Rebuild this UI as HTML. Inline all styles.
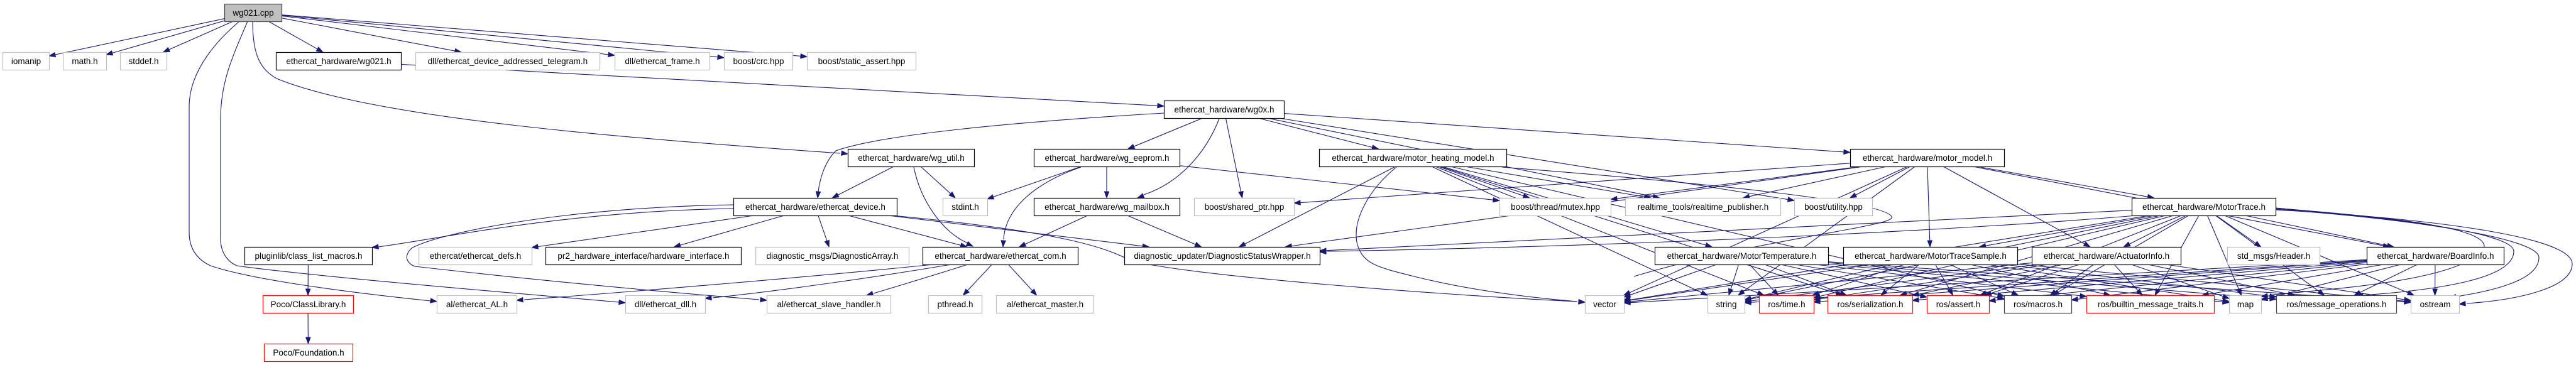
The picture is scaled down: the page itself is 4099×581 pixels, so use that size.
<!DOCTYPE html>
<html><head><meta charset="utf-8"><style>
html,body{margin:0;padding:0;background:#fff;}
svg{display:block;}
text{font-family:"Liberation Sans",sans-serif;font-size:13.5px;fill:#000;}
</style></head><body>
<svg id="s" width="4099" height="581" xmlns="http://www.w3.org/2000/svg">
<g id="edges" fill="none" stroke="#191970" stroke-width="1.1"></g>
<g id="arrows" fill="#191970" stroke="#191970"></g>
<g id="nodes"></g>
</svg>
<div id="labels" style="display:none">
<span data-k="cpp">wg021.cpp</span>
<span data-k="iomanip">iomanip</span>
<span data-k="math">math.h</span>
<span data-k="stddef">stddef.h</span>
<span data-k="wg021h">ethercat_hardware/wg021.h</span>
<span data-k="tele">dll/ethercat_device_addressed_telegram.h</span>
<span data-k="frame">dll/ethercat_frame.h</span>
<span data-k="crc">boost/crc.hpp</span>
<span data-k="sa">boost/static_assert.hpp</span>
<span data-k="wg0x">ethercat_hardware/wg0x.h</span>
<span data-k="util">ethercat_hardware/wg_util.h</span>
<span data-k="eeprom">ethercat_hardware/wg_eeprom.h</span>
<span data-k="mhm">ethercat_hardware/motor_heating_model.h</span>
<span data-k="mm">ethercat_hardware/motor_model.h</span>
<span data-k="dev">ethercat_hardware/ethercat_device.h</span>
<span data-k="stdint">stdint.h</span>
<span data-k="mbox">ethercat_hardware/wg_mailbox.h</span>
<span data-k="sp">boost/shared_ptr.hpp</span>
<span data-k="mutex">boost/thread/mutex.hpp</span>
<span data-k="rtp">realtime_tools/realtime_publisher.h</span>
<span data-k="util2">boost/utility.hpp</span>
<span data-k="mt">ethercat_hardware/MotorTrace.h</span>
<span data-k="plug">pluginlib/class_list_macros.h</span>
<span data-k="defs">ethercat/ethercat_defs.h</span>
<span data-k="pr2">pr2_hardware_interface/hardware_interface.h</span>
<span data-k="darr">diagnostic_msgs/DiagnosticArray.h</span>
<span data-k="com">ethercat_hardware/ethercat_com.h</span>
<span data-k="dsw">diagnostic_updater/DiagnosticStatusWrapper.h</span>
<span data-k="mtemp">ethercat_hardware/MotorTemperature.h</span>
<span data-k="mts">ethercat_hardware/MotorTraceSample.h</span>
<span data-k="ai">ethercat_hardware/ActuatorInfo.h</span>
<span data-k="hdr">std_msgs/Header.h</span>
<span data-k="bi">ethercat_hardware/BoardInfo.h</span>
<span data-k="cl">Poco/ClassLibrary.h</span>
<span data-k="al">al/ethercat_AL.h</span>
<span data-k="dll">dll/ethercat_dll.h</span>
<span data-k="sh">al/ethercat_slave_handler.h</span>
<span data-k="pth">pthread.h</span>
<span data-k="mst">al/ethercat_master.h</span>
<span data-k="vec">vector</span>
<span data-k="str">string</span>
<span data-k="time">ros/time.h</span>
<span data-k="ser">ros/serialization.h</span>
<span data-k="as">ros/assert.h</span>
<span data-k="mac">ros/macros.h</span>
<span data-k="bmt">ros/builtin_message_traits.h</span>
<span data-k="map">map</span>
<span data-k="mo">ros/message_operations.h</span>
<span data-k="os">ostream</span>
<span data-k="fd">Poco/Foundation.h</span>
</div>
<script>
var NS="http://www.w3.org/2000/svg";
var N={
cpp:[357,6,91,'c'],
iomanip:[4,83,74,'g'],math:[100,83,69,'g'],stddef:[191,83,74,'g'],wg021h:[439,83,199,'b'],
tele:[661,83,293,'g'],frame:[978,83,151,'g'],crc:[1152,83,109,'g'],sa:[1284,83,173,'g'],
wg0x:[1852,160,191,'b'],
util:[1349,237,201,'b'],eeprom:[1645,237,232,'b'],mhm:[2099,237,298,'b'],mm:[2944,237,245,'b'],
dev:[1167,315,260,'b'],stdint:[1500,315,71,'g'],mbox:[1645,315,232,'b'],sp:[1900,315,159,'g'],
mutex:[2386,315,177,'g'],rtp:[2586,315,247,'g'],util2:[2855,315,124,'g'],mt:[3392,315,229,'b'],
plug:[389,393,203,'b'],defs:[666,393,180,'g'],pr2:[868,393,311,'b'],darr:[1202,393,244,'g'],
com:[1468,393,247,'b'],dsw:[1789,393,311,'b'],mtemp:[2633,393,276,'b'],mts:[2933,393,277,'b'],
ai:[3233,393,237,'b'],hdr:[3544,393,147,'g'],bi:[3766,393,218,'b'],
cl:[418,470,144,'r'],al:[695,470,127,'g'],dll:[995,470,127,'g'],sh:[1220,470,197,'g'],
pth:[1477,470,85,'g'],mst:[1585,470,155,'g'],vec:[2522,470,62,'g'],str:[2717,470,59,'g'],
time:[2799,470,87,'r'],ser:[2908,470,135,'r'],as:[3066,470,99,'r'],mac:[3189,470,107,'d'],
bmt:[3320,470,203,'r'],map:[3547,470,51,'g'],mo:[3622,470,191,'d'],os:[3836,470,77,'g'],
fd:[420,547,141,'r']
};
var H=28;
var E=document.getElementById('edges'),A=document.getElementById('arrows'),G=document.getElementById('nodes');
function el(t,a,p){var e=document.createElementNS(NS,t);for(var k in a)e.setAttribute(k,a[k]);p.appendChild(e);return e;}
function arrow(px,py,ex,ey){var dx=ex-px,dy=ey-py,l=Math.sqrt(dx*dx+dy*dy)||1;dx/=l;dy/=l;
var bx=ex-dx*10,by=ey-dy*10;
el('polygon',{points:ex+','+ey+' '+(bx-dy*3.6)+','+(by+dx*3.6)+' '+(bx+dy*3.6)+','+(by-dx*3.6)},A);}
function ctr(k){var n=N[k];return [n[0]+n[2]/2,n[1]+H/2];}
function clip(k,px,py){var n=N[k],c=ctr(k),dx=px-c[0],dy=py-c[1];
var tx=dx?(n[2]/2)/Math.abs(dx):1e9,ty=dy?(H/2)/Math.abs(dy):1e9,t=Math.min(tx,ty);
return [c[0]+dx*t,c[1]+dy*t];}
function e(a,b){var ca=ctr(a),cb=ctr(b);
var s=clip(a,cb[0],cb[1]),t=clip(b,ca[0],ca[1]);
var dx=t[0]-s[0],dy=t[1]-s[1],l=Math.sqrt(dx*dx+dy*dy);
var ex=t[0]-dx/l*9,ey=t[1]-dy/l*9;
el('path',{d:'M'+s[0]+','+s[1]+' L'+ex+','+ey},E);arrow(s[0],s[1],t[0],t[1]);}
function c(d,px,py,ex,ey){el('path',{d:d},E);arrow(px,py,ex,ey);}
[['cpp','iomanip'],['cpp','math'],['cpp','stddef'],['cpp','wg021h'],['cpp','tele'],['cpp','frame'],['cpp','crc'],['cpp','sa'],
['wg021h','wg0x'],
['wg0x','eeprom'],['wg0x','sp'],['wg0x','mhm'],['wg0x','mm'],['wg0x','rtp'],['wg0x','util2'],
['util','dev'],['util','stdint'],
['eeprom','stdint'],['eeprom','mbox'],['eeprom','mutex'],
['dev','defs'],['dev','pr2'],['dev','darr'],['dev','com'],['dev','dsw'],
['mbox','com'],['mbox','dsw'],
['com','pth'],['com','mst'],
['plug','cl'],['cl','fd'],
['mhm','mutex'],['mhm','rtp'],['mhm','dsw'],['mhm','mtemp'],['mhm','str'],['mhm','ser'],['mhm','mac'],['mhm','time'],
['mm','rtp'],['mm','util2'],['mm','mutex'],['mm','mt'],['mm','ai'],['mm','mts'],['mm','bi'],['mm','vec'],['mm','str'],['mm','sp'],['mm','dsw'],
['mt','hdr'],['mt','bi'],['mt','ai'],['mt','mts'],['mt','dsw'],['mt','vec'],['mt','str'],['mt','map']
].forEach(function(p){e(p[0],p[1]);});
['mtemp','mts','ai','bi','mt'].forEach(function(s){
['vec','str','time','ser','as','mac','bmt','map','mo','os'].forEach(function(t){if(!(s=='mt'&&(t=='vec'||t=='str'||t=='map')))e(s,t);});});
c('M381,34 C350,60 301,110 301,170 L301,370 C301,400 318,415 335,423 C400,445 550,465 685,479',335,423,695,480);
c('M394,34 C370,90 351,130 351,190 L351,380 C351,405 365,418 377,423 C500,440 800,465 985,481',377,423,995,482);
c('M402,34 C402,90 415,110 440,125 C600,190 1000,220 1337,244',440,125,1349,245);
c('M1167,332 C900,336 700,380 602,393',700,380,592,394);
c('M1167,326 C900,330 700,370 655,395 C640,410 650,420 660,424 C800,440 1000,460 1208,477',660,424,1220,478);
c('M1852,180 C1600,195 1400,215 1330,240 C1310,260 1304,290 1302,305',1305,280,1301,315);
c('M1454,266 C1465,320 1500,370 1540,387',1500,370,1548,392);
c('M1720,266 C1650,290 1600,330 1597,381',1600,330,1596,393);
c('M1940,189 C1920,240 1880,290 1820,310',1880,290,1810,315);
c('M1420,343 C1700,370 1760,395 1800,415 C1900,440 2300,470 2510,480',2300,470,2522,481);
c('M2222,266 C2180,300 2150,350 2160,390 C2170,420 2190,425 2250,440 C2350,465 2450,475 2510,480',2450,475,2522,481);
c('M1495,420 C1300,440 1000,465 834,477',1000,465,822,478);
c('M1520,420 C1400,440 1250,462 1134,474',1250,462,1122,475);
c('M1543,420 C1480,440 1420,458 1390,467',1420,458,1379,470);
c('M3621,334 C3900,350 4093,380 4093,420 C4093,460 4000,478 3925,483',4000,478,3913,484);
c('M3621,333 C3850,350 4040,380 4040,410 C4040,450 3950,465 3910,472',3950,465,3898,474);
c('M3621,332 C3800,345 4000,370 4000,400 C4000,440 3900,460 3760,470',3900,460,3750,471);
c('M3621,331 C3780,345 3980,360 3950,400 C3900,450 3700,460 3610,470',3700,460,3598,472);
c('M3400,343 C3200,360 2700,390 2112,400',2400,395,2100,401);
c('M2390,266 C2700,290 3000,320 3010,345 C3020,360 2800,380 2600,440',2800,390,2584,478);
var L={};document.querySelectorAll('#labels span').forEach(function(s){L[s.getAttribute('data-k')]=s.textContent;});
for(var k in N){var n=N[k],st={b:'#000',g:'#bfbfbf',r:'#ff0000',d:'#404040',c:'#404040'}[n[3]];
el('rect',{x:n[0]+0.5,y:n[1]+0.5,width:n[2],height:H,fill:n[3]=='c'?'#bfbfbf':'#fff',stroke:st,'stroke-width':1.2},G);
var t=el('text',{x:n[0]+n[2]/2+0.5,y:n[1]+19,'text-anchor':'middle'},G);t.textContent=L[k];
var tl=n[2]-20; if(t.getComputedTextLength&&t.getComputedTextLength()>tl){t.setAttribute('textLength',tl);t.setAttribute('lengthAdjust','spacingAndGlyphs');}}
</script>
</body></html>
